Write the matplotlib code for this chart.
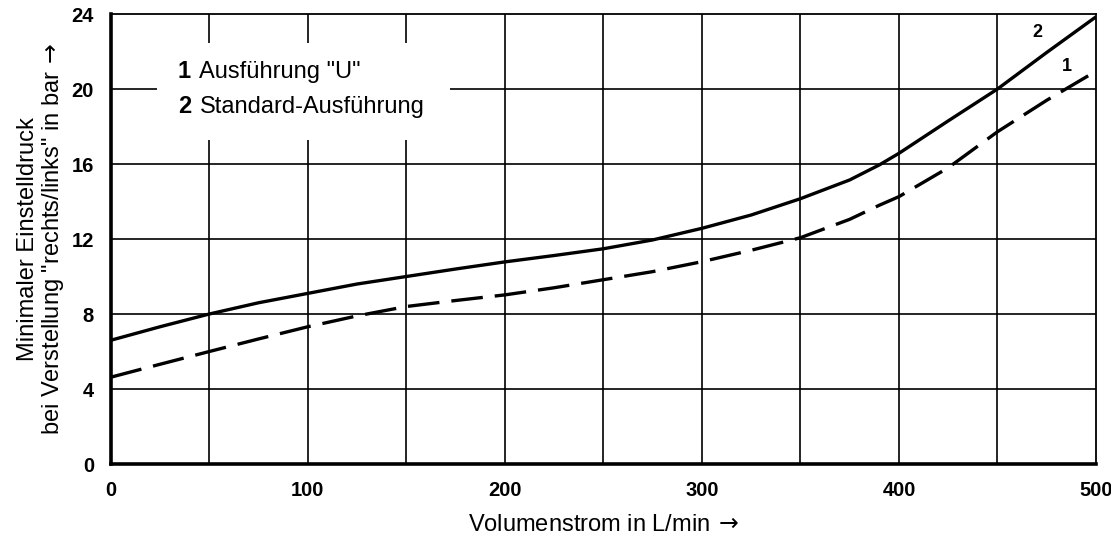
import matplotlib
matplotlib.use("Agg")
import matplotlib.pyplot as plt
from matplotlib.patches import Rectangle

plt.rcParams['font.family'] = ['Liberation Sans', 'DejaVu Sans']

# Volumenstrom (L/min) and minimal set pressure (bar)
flow = [0, 25, 50, 75, 100, 125, 150, 175, 200, 225, 250, 275, 300, 325, 350, 375, 390, 400, 425, 450, 475, 500]
# curve 2: Standard-Ausführung (solid)
p_standard = [6.6, 7.32, 8.0, 8.6, 9.1, 9.6, 10.0, 10.4, 10.78, 11.12, 11.48, 11.95, 12.57, 13.28, 14.15,
              15.15, 15.95, 16.57, 18.3, 20.0, 21.95, 23.85]
# curve 1: Ausführung "U" (dashed)
p_u = [4.63, 5.32, 6.0, 6.67, 7.32, 7.9, 8.4, 8.72, 9.02, 9.4, 9.83, 10.26, 10.79, 11.4, 12.07,
       13.05, 13.8, 14.26, 15.8, 17.72, 19.4, 20.95]

x_ticks = [0, 100, 200, 300, 400, 500]
y_ticks = [0, 4, 8, 12, 16, 20, 24]

fig = plt.figure(figsize=(11.11, 5.47), dpi=100)
ax = fig.add_axes([0.0997, 0.1517, 0.8868, 0.8227])

ax.set_xlim(0, 500)
ax.set_ylim(0, 24)

# grid every 50 L/min and every 4 bar
for gx in range(50, 500, 50):
    ax.axvline(gx, color='black', lw=1.2, zorder=1)
for gy in range(4, 24, 4):
    ax.axhline(gy, color='black', lw=1.2, zorder=1)

ax.plot(flow, p_standard, color='black', lw=2.4, solid_capstyle='butt', zorder=3)
ax.plot(flow, p_u, color='black', lw=2.4, dashes=(9.5, 3.6), zorder=3)

# curve numbers
ax.text(470, 23.0, '2', fontsize=13, fontweight='bold', ha='center', va='center')
ax.text(485, 21.2, '1', fontsize=13, fontweight='bold', ha='center', va='center')

# legend box blanking the grid
ax.add_patch(Rectangle((0.047, 0.72), 0.297, 0.216, transform=ax.transAxes,
                       facecolor='white', edgecolor='none', zorder=2))
legend_kw = dict(transform=ax.transAxes, fontsize=17, va='baseline', zorder=4)
ax.text(0.068, 0.858, '1', fontweight='bold', **legend_kw)
ax.text(0.090, 0.858, 'Ausführung "U"', **legend_kw)
ax.text(0.068, 0.779, '2', fontweight='bold', **legend_kw)
ax.text(0.090, 0.779, 'Standard-Ausführung', **legend_kw)

ax.set_xticks(x_ticks)
ax.set_yticks(y_ticks)
ax.tick_params(length=0, labelsize=14.5)
ax.tick_params(axis='x', pad=12)
ax.tick_params(axis='y', pad=12)
for lab in ax.get_xticklabels() + ax.get_yticklabels():
    lab.set_fontweight('bold')

for side in ('left', 'bottom'):
    ax.spines[side].set_linewidth(2.6)
for side in ('top', 'right'):
    ax.spines[side].set_linewidth(1.3)

ax.set_xlabel(r'Volumenstrom in L/min$\,\rightarrow$', fontsize=17, labelpad=10)
ax.set_ylabel('Minimaler Einstelldruck\n' + r'bei Verstellung "rechts/links" in bar$\,\rightarrow$',
              fontsize=17, labelpad=4, linespacing=1.05)

fig.savefig('out.png', dpi=100)
